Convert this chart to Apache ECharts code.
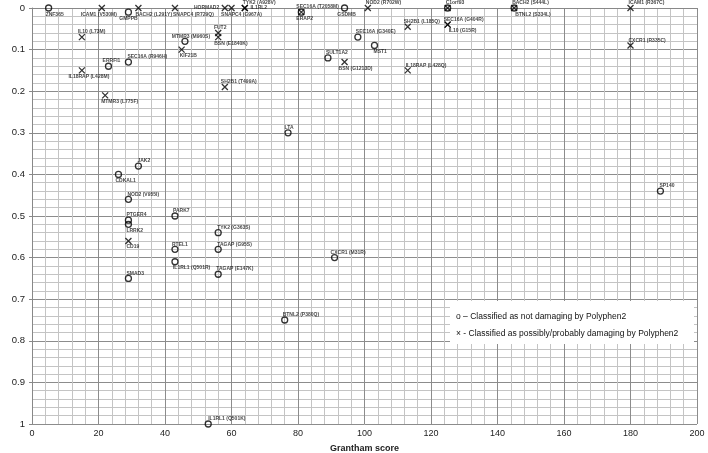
<!DOCTYPE html>
<html>
<head>
<meta charset="utf-8">
<script src="https://cdn.jsdelivr.net/npm/echarts@6/dist/echarts.min.js"></script>
<style>
html,body{margin:0;padding:0;background:#fff;}
#c{width:708px;height:453px;}
</style>
</head>
<body>
<div id="c"></div>
<script>
// ---- data ----
const notDamagingNames = ["ZNF365","GMPPB","SEC16A (T2058M)","GSDMB","C1orf93","BACH2 (S444L)","SEC16A (G340E)","MST1","SULT1A2","MTMR3 (M960S)","ERRFI1","SEC16A (R946H)","LTA","JAK2","CDKAL1","NOD2 (V955I)","PARK7","PTGER4","LRRK2","RTEL1","IL1RL1 (Q501R)","SMAD3","TYK2 (G363S)","TAGAP (G95S)","TAGAP (E147K)","CXCR1 (M31R)","BTNL2 (P380Q)","IL1RL1 (Q501K)","SP140"];
const notDamagingGrantham = [5,29,81,94,125,145,98,103,89,46,23,29,77,32,26,29,43,29,29,43,43,29,56,56,56,91,76,53,189];
const notDamagingSift = [0,0.01,0.01,0,0,0,0.07,0.09,0.12,0.08,0.14,0.13,0.30,0.38,0.40,0.46,0.50,0.51,0.52,0.58,0.61,0.65,0.54,0.58,0.64,0.60,0.75,1.00,0.44];

const damagingNames = ["ICAM1 (V530M)","BACH2 (L291Y)","IL10 (L73M)","IL18RAP (L428M)","MTMR3 (L775F)","SNAPC4 (R729Q)","HORMAD2","SNAPC4 (G967A)","TYK2 (A928V)","IL1RL2","ERAP2","FUT2","BSN (E1840K)","KIF21B","SH2B1 (T499A)","NOD2 (R702W)","SH2B1 (L185Q)","SEC16A (G404R)","IL10 (G15R)","BSN (G1213D)","IL18RAP (L428Q)","ICAM1 (R367C)","CXCR1 (R335C)","CD19","BTNL2 (S334L)",""];
const damagingGrantham = [21,32,15,15,22,43,58,60,64,64,81,56,56,45,58,101,113,125,125,94,113,180,180,29,145,125];
const damagingSift = [0,0,0.07,0.15,0.21,0,0,0,0,0,0.01,0.06,0.07,0.10,0.19,0,0.045,0.04,0.04,0.13,0.15,0,0.09,0.56,0,0];

const xTicks = {min:0, max:200, step:20};
const yTicks = {min:0, max:1, step:0.1};
const legendLines = ["o \u2013 Classified as not damaging by Polyphen2","\u00d7 - Classified as possibly/probably damaging by Polyphen2"];

// ---- label placement (style) ----
const placeNot = {"ZNF365":["br",-3],"GMPPB":["b",0],"SEC16A (T2058M)":["tr",-5],"GSDMB":["b",2],"C1orf93":["tr",-2],"BACH2 (S444L)":["tr",-2],
 "SEC16A (G340E)":["tr",-2],"MST1":["br",-1],"SULT1A2":["tr",-2],"MTMR3 (M960S)":["t",6],"ERRFI1":["t",3],"SEC16A (R946H)":["tr",-1],
 "LTA":["t",1],"JAK2":["tr",-1],"CDKAL1":["br",-3],"NOD2 (V955I)":["tr",-1],"PARK7":["tr",-2],"PTGER4":["tr",-2],"LRRK2":["br",-2],
 "RTEL1":["tr",-3],"IL1RL1 (Q501R)":["br",-2],"SMAD3":["tr",-2],"TYK2 (G363S)":["tr",-1],"TAGAP (G95S)":["tr",-1],"TAGAP (E147K)":["tr",-2],
 "CXCR1 (M31R)":["tr",-4],"BTNL2 (P380Q)":["tr",-2],"IL1RL1 (Q501K)":["tr",0],"SP140":["tr",-1]};
const placeDam = {"ICAM1 (V530M)":["b",-3],"BACH2 (L291Y)":["br",-3],"IL10 (L73M)":["tr",-4],"IL18RAP (L428M)":["b",7],"MTMR3 (L775F)":["br",-4],
 "SNAPC4 (R729Q)":["br",-2],"HORMAD2":["l",0],"SNAPC4 (G967A)":["b",10],"TYK2 (A928V)":["tr",-2],"IL1RL2":["r",0],"ERAP2":["br",-5],
 "FUT2":["t",2],"BSN (E1840K)":["br",-4],"KIF21B":["br",-2],"SH2B1 (T499A)":["tr",-4],"NOD2 (R702W)":["tr",-2],"SH2B1 (L185Q)":["tr",-4],
 "SEC16A (G404R)":["tr",-4],"IL10 (G15R)":["br",1],"BSN (G1213D)":["br",-6],"IL18RAP (L428Q)":["tr",-2],"ICAM1 (R367C)":["tr",-2],
 "CXCR1 (R335C)":["tr",-2],"CD19":["br",-2],"BTNL2 (S334L)":["br",1]};

function labelCfg(p){
  if(!p) return {show:false};
  const [k,dx]=p;
  const base={show:true,distance:0,offset:[dx,0]};
  if(k==='tr') return Object.assign(base,{position:'top',align:'left',offset:[dx,1]});
  if(k==='br') return Object.assign(base,{position:'bottom',align:'left'});
  if(k==='t') return Object.assign(base,{position:'top',offset:[dx,1]});
  if(k==='b') return Object.assign(base,{position:'bottom'});
  if(k==='r') return Object.assign(base,{position:'right',distance:2});
  if(k==='l') return Object.assign(base,{position:'left',distance:2});
  return base;
}
function build(names,xs,ys,place){
  return names.map((n,i)=>({name:n,value:[xs[i],ys[i]],label:labelCfg(place[n])}));
}

const chart = echarts.init(document.getElementById('c'));
const labelText = {color:'#111',fontSize:5,fontFamily:'Liberation Sans',fontWeight:'bold',formatter:'{b}'};
chart.setOption({
  animation:false,
  backgroundColor:'#fff',
  grid:{left:32,right:11,top:8,bottom:29,containLabel:false,outerBoundsMode:'none'},
  xAxis:{type:'value',min:xTicks.min,max:xTicks.max,interval:xTicks.step,
    name:'Grantham score',nameLocation:'middle',nameGap:20,
    nameTextStyle:{fontSize:9,fontWeight:'bold',color:'#222',fontFamily:'Liberation Sans'},
    axisLine:{show:true,lineStyle:{color:'#888'}},
    axisTick:{show:true,length:3,lineStyle:{color:'#888'}},
    axisLabel:{fontSize:9,color:'#222',fontFamily:'Liberation Sans',margin:5},
    splitLine:{show:true,lineStyle:{color:'#8c8c8c',width:1}},
    minorTick:{show:false,splitNumber:5},
    minorSplitLine:{show:true,lineStyle:{color:'#c4c4c4',width:1}}
  },
  yAxis:{type:'value',inverse:true,min:yTicks.min,max:yTicks.max,interval:yTicks.step,
    name:'SIFT score',nameLocation:'middle',nameGap:22,
    nameTextStyle:{fontSize:9,fontWeight:'bold',color:'#222',fontFamily:'Liberation Sans'},
    axisLine:{show:true,lineStyle:{color:'#888'}},
    axisTick:{show:true,length:3,lineStyle:{color:'#888'}},
    axisLabel:{fontSize:9.5,color:'#222',fontFamily:'Liberation Sans',margin:7,
      formatter:v=>String(Math.round(v*10)/10)},
    splitLine:{show:true,lineStyle:{color:'#8c8c8c',width:1}},
    minorTick:{show:false,splitNumber:5},
    minorSplitLine:{show:true,lineStyle:{color:'#c4c4c4',width:1}}
  },
  series:[
    {type:'scatter',name:'not damaging',symbol:'circle',symbolSize:6,
     itemStyle:{color:'rgba(0,0,0,0)',borderColor:'#000',borderWidth:1.3},
     label:labelText,emphasis:{disabled:true},z:5,
     data:build(notDamagingNames,notDamagingGrantham,notDamagingSift,placeNot)},
    {type:'scatter',name:'damaging',symbol:'path://M0,0L10,10M10,0L0,10',symbolSize:6,
     itemStyle:{color:'rgba(0,0,0,0)',borderColor:'#000',borderWidth:1.3},
     label:labelText,emphasis:{disabled:true},z:5,
     data:build(damagingNames,damagingGrantham,damagingSift,placeDam)}
  ],
  graphic:[
    {type:'rect',left:450,top:301,z:100,shape:{width:244,height:43},style:{fill:'#fff'}},
    {type:'text',left:456,top:312,z:101,style:{text:legendLines[0],fontSize:8.5,fill:'#111',fontFamily:'Liberation Sans'}},
    {type:'text',left:456,top:329,z:101,style:{text:legendLines[1],fontSize:8.5,fill:'#111',fontFamily:'Liberation Sans'}}
  ]
});
</script>
</body>
</html>
